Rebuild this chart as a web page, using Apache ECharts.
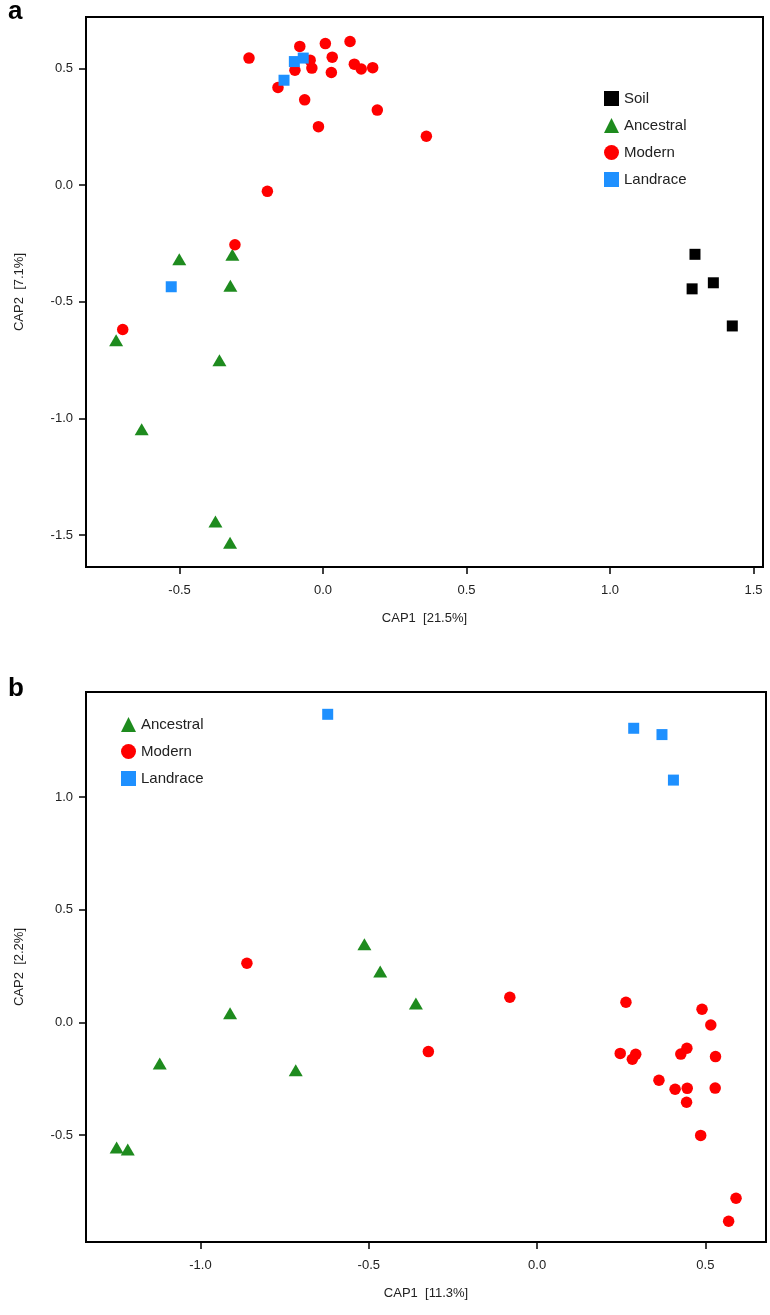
<!DOCTYPE html>
<html><head><meta charset="utf-8">
<script src="https://cdn.jsdelivr.net/npm/echarts@6/dist/echarts.min.js"></script>
<style>html,body{margin:0;padding:0;background:#fff}#c{width:770px;height:1315px}</style>
</head><body><div id="c"></div>
<script>
// ---------- Panel a data (CAP1, CAP2) ----------
const soilA = [[1.296,-0.297],[1.360,-0.419],[1.286,-0.445],[1.426,-0.604]];
const ancestralA = [[-0.316,-0.299],[-0.501,-0.318],[-0.323,-0.432],[-0.721,-0.665],[-0.361,-0.751],[-0.632,-1.047],[-0.375,-1.442],[-0.324,-1.533]];
const modernA = [[-0.258,0.544],[-0.081,0.594],[0.008,0.606],[0.094,0.615],[-0.045,0.535],[0.032,0.548],[-0.098,0.492],[-0.039,0.501],[0.029,0.482],[0.109,0.518],[0.133,0.497],[0.173,0.503],[-0.157,0.418],[-0.064,0.365],[0.189,0.321],[-0.016,0.250],[0.360,0.209],[-0.194,-0.027],[-0.307,-0.256],[-0.698,-0.619]];
const landraceA = [[-0.100,0.529],[-0.069,0.544],[-0.136,0.449],[-0.529,-0.436]];
// ---------- Panel b data ----------
const ancestralB = [[-0.513,0.346],[-0.466,0.225],[-0.360,0.083],[-0.912,0.040],[-1.121,-0.183],[-0.717,-0.213],[-1.249,-0.556],[-1.216,-0.564]];
const modernB = [[-0.862,0.262],[-0.081,0.111],[-0.323,-0.130],[0.264,0.089],[0.490,0.058],[0.516,-0.012],[0.445,-0.115],[0.427,-0.141],[0.530,-0.152],[0.247,-0.138],[0.293,-0.142],[0.283,-0.164],[0.362,-0.257],[0.410,-0.297],[0.446,-0.293],[0.529,-0.292],[0.444,-0.355],[0.486,-0.502],[0.591,-0.781],[0.569,-0.883]];
const landraceB = [[-0.622,1.367],[0.287,1.305],[0.371,1.277],[0.405,1.075]];
// ---------- Tick labels ----------
const xTicksA = [-0.5,0.0,0.5,1.0,1.5];
const yTicksA = [-1.5,-1.0,-0.5,0.0,0.5];
const xTicksB = [-1.0,-0.5,0.0,0.5];
const yTicksB = [-0.5,0.0,0.5,1.0];
const legendA = ['Soil','Ancestral','Modern','Landrace'];
const legendB = ['Ancestral','Modern','Landrace'];
const xNameA = 'CAP1  [21.5%]', yNameA = 'CAP2  [7.1%]';
const xNameB = 'CAP1  [11.3%]', yNameB = 'CAP2  [2.2%]';

const FONT = 'Liberation Sans, Arial, Helvetica, sans-serif';
const COL = {Soil:'#000000', Ancestral:'#1E8B1E', Modern:'#FF0000', Landrace:'#1E90FF'};
const SYM = {Soil:'rect', Ancestral:'triangle', Modern:'circle', Landrace:'rect'};
const SIZE = {Soil:11, Ancestral:[14,12], Modern:11.5, Landrace:11};

function axis(gi, min, max, ticks, name, isY, nameGap){
  return {
    type:'value', gridIndex:gi, min:min, max:max, name:name, nameLocation:'middle', nameGap:nameGap,
    nameTextStyle:{fontFamily:FONT, fontSize:13, color:'#222'},
    axisLine:{show:true, onZero:false, lineStyle:{color:'#000', width:2}},
    splitLine:{show:false},
    axisTick:{show:true, inside:false, length:7, customValues:ticks, lineStyle:{color:'#000', width:1.5}},
    axisLabel:{customValues:ticks, formatter:v=>v.toFixed(1), margin:isY?13:17, fontFamily:FONT, fontSize:13, color:'#222'}
  };
}
function ser(name, data, xi){
  return {type:'scatter', name:name, xAxisIndex:xi, yAxisIndex:xi, data:data,
    symbol:SYM[name], symbolSize:SIZE[name], itemStyle:{color:COL[name], opacity:1}, emphasis:{disabled:true}};
}
function legendItems(arr){ return arr.map(n=>({name:n, icon:SYM[n]})); }

const chart = echarts.init(document.getElementById('c'));
chart.setOption({
  animation:false,
  backgroundColor:'#fff',
  grid:[
    {left:86, top:17, width:677, height:550, show:true, borderColor:'#000', borderWidth:2, containLabel:false},
    {left:86, top:692, width:680, height:550, show:true, borderColor:'#000', borderWidth:2, containLabel:false}
  ],
  xAxis:[axis(0,-0.826,1.533,xTicksA,xNameA,false,45), axis(1,-1.34,0.68,xTicksB,xNameB,false,45)],
  yAxis:[axis(0,-1.637,0.72,yTicksA,yNameA,true,60), axis(1,-0.975,1.466,yTicksB,yNameB,true,60)],
  legend:[
    {data:legendItems(legendA), orient:'vertical', left:599, top:86, itemWidth:15, itemHeight:15, itemGap:12,
     textStyle:{fontFamily:FONT, fontSize:15, color:'#222'}, selectedMode:false},
    {data:legendItems(legendB), orient:'vertical', left:116, top:712, itemWidth:15, itemHeight:15, itemGap:12,
     textStyle:{fontFamily:FONT, fontSize:15, color:'#222'}, selectedMode:false}
  ],
  graphic:[
    {type:'text', left:8, top:-1, style:{text:'a', font:'bold 26px '+FONT, fill:'#000'}},
    {type:'text', left:8, top:676, style:{text:'b', font:'bold 26px '+FONT, fill:'#000'}}
  ],
  series:[
    ser('Soil', soilA, 0), ser('Ancestral', ancestralA, 0), ser('Modern', modernA, 0), ser('Landrace', landraceA, 0),
    ser('Ancestral', ancestralB, 1), ser('Modern', modernB, 1), ser('Landrace', landraceB, 1)
  ]
});
</script></body></html>
